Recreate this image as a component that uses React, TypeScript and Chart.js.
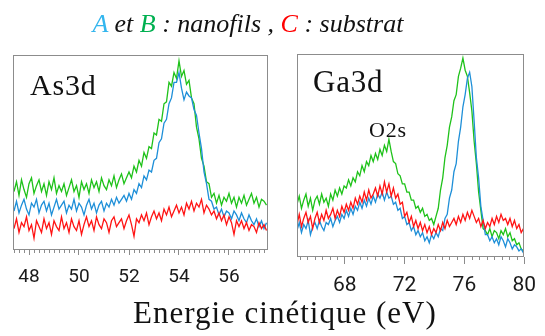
import React, { useEffect, useRef } from "react";
import { Chart, registerables } from "chart.js";

Chart.register(...registerables);

// ---------- As3d panel (kinetic energy grid: start + i * step, eV) ----------
const AS_START = 47.4;
const AS_STEP = 0.1;
const AS_TICKS = [48, 50, 52, 54, 56];
// A : nanofils (blue)
const AS_A = [
  20, 25, 19, 23, 26, 21, 18, 24, 22, 26,
  19, 23, 25, 20, 24, 18, 22, 26, 21, 23,
  25, 19, 23, 21, 26, 20, 24, 22, 18, 23,
  26, 21, 24, 19, 23, 25, 20, 24, 22, 26,
  23, 27, 24, 26, 28, 25,
  29, 26, 31, 29, 34, 32, 38, 36, 41, 40, 46, 47, 55, 57, 65, 67, 75, 78, 86, 86,
  91, 83, 77, 81, 79, 78, 72, 69, 60, 52, 40, 34, 26, 25, 21,
  22, 18, 21, 17, 20, 19, 16, 20, 18,
  15, 19, 16, 14, 18, 15, 13, 16, 12, 15, 11, 14,
];
// B : nanofils (green)
const AS_B = [
  30, 35, 28, 36, 31, 27, 34, 37, 29, 33,
  36, 30, 34, 28, 35, 31, 37, 29, 33, 30,
  34, 28, 32, 36, 30, 33, 27, 35, 31, 34,
  29, 36, 32, 35, 30, 37, 33, 31, 36, 33,
  38, 32, 36, 39, 34, 37,
  40, 37, 43, 40, 46, 43, 50, 47, 53, 52, 60, 59, 67, 66, 75, 76, 86, 84, 91, 88,
  97, 89, 92, 85, 87, 78, 75, 63, 57, 47, 43, 35, 34, 27, 29,
  24, 28, 23, 27, 25, 29, 24, 27, 22,
  27, 24, 28, 23, 26, 29, 24, 27, 22, 26, 25, 23,
];
// C : substrat (red)
const AS_C = [
  11, 16, 9, 14, 12, 17, 10, 13, 6, 15,
  12, 9, 16, 11, 14, 8, 15, 12, 10, 17,
  11, 14, 9, 16, 12, 10, 15, 8, 13, 17,
  12, 15, 10, 17, 13, 11, 16, 14, 9, 15,
  17, 12, 14, 16, 11, 15, 18, 13, 7, 16,
  14, 18, 15, 19, 13, 17, 20, 16, 19, 15,
  21, 18, 22, 17, 20, 23, 19, 22, 18, 24,
  21, 25, 20, 24, 22, 26, 19, 23, 21, 18,
  20, 16, 19, 15, 18, 13, 17, 14, 8, 15,
  12, 15, 11, 14, 10, 13, 12, 9, 14, 11, 13, 10,
];

// ---------- Ga3d panel ----------
const GA_START = 64.8;
const GA_STEP = 0.15;
const GA_TICKS = [68, 72, 76, 80];
const GA_A = [
  13, 17, 12, 16, 14, 18, 11, 15, 17,
  14, 18, 15, 13, 17, 16,
  19, 15, 18, 20, 17, 21, 19,
  23, 20, 24, 21, 25, 23, 27, 24, 28, 25, 29, 26, 30, 27, 31, 29, 32, 28, 32, 29,
  30, 26, 27, 23, 24, 19, 20, 16, 17, 13, 15, 11, 13, 10, 12, 8, 10, 7, 11, 9,
  12, 10, 14, 13, 19, 21, 29, 33, 42, 46, 57, 64, 74, 80, 88, 91, 84, 67, 49, 39, 25, 18, 11,
  11, 8, 10, 7, 9, 6, 10, 8, 5, 9, 7, 4, 6, 5, 3, 4, 2,
];
const GA_B = [
  26, 30, 24, 28, 31, 25, 29, 23, 28,
  30, 26, 31, 27, 29, 25,
  31, 28, 33, 30, 34, 31, 35,
  34, 38, 35, 39, 37, 42, 40, 45, 42, 47, 45, 50, 47,
  51, 48, 53, 50, 55, 52, 58,
  52, 47, 46, 41, 40, 36, 36, 32, 32, 28, 28, 24, 25, 22, 24, 20, 21, 18, 19, 16,
  20, 24, 33, 39, 49, 55, 64, 69, 77, 80, 89, 93, 98, 92, 89, 81, 72, 57, 46, 32, 23, 14, 13,
  11, 14, 10, 13, 12, 9, 13, 11, 14, 10, 12, 8, 9, 6, 7, 4, 3,
];
const GA_C = [
  16, 21, 15, 19, 22, 17, 20, 14, 19,
  22, 17, 21, 18, 23, 19,
  21, 24, 19, 23, 20, 25, 22,
  26, 23, 27, 24, 29, 26, 30,
  27, 32, 28, 33, 29, 31,
  34, 30, 35, 31, 37, 32, 36,
  30, 34, 29, 31, 26, 27,
  20, 22, 17, 20, 15, 18, 14,
  17, 13, 16, 12, 15, 11, 14,
  12, 16, 13, 17, 14, 18, 15, 17,
  19, 16, 20, 17, 21, 18, 22, 19, 23, 20,
  17, 19, 15, 18, 14, 17, 15,
  19, 16, 20, 17, 21, 18, 19, 16, 19, 15, 18,
  14, 16, 12, 14,
];

const COL_A = "#1e8fd8";
const COL_B = "#1fc21a";
const COL_C = "#ff1414";
const FRAME = "#8c8c8c";

const toXY = (start: number, step: number, ys: number[]) =>
  ys.map((y, i) => ({ x: Math.round((start + i * step) * 1000) / 1000, y }));

const framePlugin = {
  id: "frameMinor",
  afterDraw(chart: any, _args: any, opts: any) {
    const { ctx, chartArea: a } = chart;
    const xs = chart.scales.x;
    ctx.save();
    ctx.strokeStyle = FRAME;
    ctx.lineWidth = 1;
    ctx.strokeRect(
      Math.round(a.left) + 0.5,
      Math.round(a.top) + 0.5,
      Math.round(a.right - a.left) - 1,
      Math.round(a.bottom - a.top) - 1
    );
    const n = Math.round((opts.minorEnd - opts.minorStart) / opts.minorStep);
    ctx.beginPath();
    for (let k = 0; k <= n; k++) {
      const v = opts.minorStart + k * opts.minorStep;
      if (opts.majors.some((m: number) => Math.abs(m - v) < 1e-6)) continue;
      const px = Math.round(xs.getPixelForValue(v)) + 0.5;
      ctx.moveTo(px, Math.round(a.bottom) - 0.5);
      ctx.lineTo(px, Math.round(a.bottom) + opts.minorLen);
    }
    ctx.stroke();
    ctx.restore();
  },
};

type PanelProps = {
  left: number;
  width: number;
  height: number;
  a: number[];
  b: number[];
  c: number[];
  start: number;
  step: number;
  xMin: number;
  xMax: number;
  ticks: number[];
  minorStart: number;
  minorEnd: number;
  minorStep: number;
  padding: { left: number; right: number; top: number; bottom: number };
  fontSize: number;
  tickLength: number;
  tickPadding: number;
};

function Panel(p: PanelProps) {
  const ref = useRef<HTMLCanvasElement | null>(null);
  useEffect(() => {
    if (!ref.current) return;
    const mk = (ys: number[], color: string) => ({
      data: toXY(p.start, p.step, ys),
      borderColor: color,
      borderWidth: 1.3,
      pointRadius: 0,
      tension: 0,
      fill: false,
    });
    const chart = new Chart(ref.current, {
      type: "line",
      data: { datasets: [mk(p.c, COL_C), mk(p.a, COL_A), mk(p.b, COL_B)] },
      options: {
        animation: false,
        responsive: false,
        maintainAspectRatio: false,
        events: [],
        layout: { padding: p.padding, autoPadding: false } as any,
        plugins: {
          legend: { display: false },
          tooltip: { enabled: false },
          title: { display: false },
          frameMinor: {
            minorStart: p.minorStart,
            minorEnd: p.minorEnd,
            minorStep: p.minorStep,
            minorLen: 3,
            majors: p.ticks,
          },
        } as any,
        scales: {
          x: {
            type: "linear",
            min: p.xMin,
            max: p.xMax,
            afterBuildTicks: (scale: any) => {
              scale.ticks = p.ticks.map((v) => ({ value: v }));
            },
            afterFit: (scale: any) => {
              scale.height = 40;
            },
            grid: {
              display: true,
              drawOnChartArea: false,
              drawTicks: true,
              tickLength: p.tickLength,
              color: FRAME,
              lineWidth: 1,
            },
            border: { display: false },
            ticks: {
              autoSkip: false,
              maxRotation: 0,
              padding: p.tickPadding,
              color: "#1a1a1a",
              font: { family: "'Liberation Sans Narrow', Roboto, sans-serif", size: p.fontSize },
              callback: (v: any) => String(v),
            },
          },
          y: { display: false, min: 0, max: 100 },
        },
      },
      plugins: [framePlugin],
    });
    return () => chart.destroy();
  }, []);
  return (
    <canvas
      ref={ref}
      width={p.width}
      height={p.height}
      style={{ position: "absolute", left: p.left, top: 0, width: p.width, height: p.height }}
    />
  );
}

const serif = "'Liberation Serif', 'DejaVu Serif', serif";

export default function App() {
  return (
    <div
      style={{
        position: "fixed",
        left: 0,
        top: 0,
        width: 545,
        height: 336,
        background: "#ffffff",
        overflow: "hidden",
      }}
    >
      <Panel
        left={0}
        width={282}
        height={300}
        a={AS_A}
        b={AS_B}
        c={AS_C}
        start={AS_START}
        step={AS_STEP}
        xMin={47.36}
        xMax={57.56}
        ticks={AS_TICKS}
        minorStart={47.4}
        minorEnd={57.4}
        minorStep={0.2}
        padding={{ left: 13, right: 14, top: 55, bottom: 10 }}
        fontSize={19}
        tickLength={5}
        tickPadding={11}
      />
      <Panel
        left={284}
        width={261}
        height={300}
        a={GA_A}
        b={GA_B}
        c={GA_C}
        start={GA_START}
        step={GA_STEP}
        xMin={64.8}
        xMax={80}
        ticks={GA_TICKS}
        minorStart={65}
        minorEnd={80}
        minorStep={0.5}
        padding={{ left: 13, right: 10.5, top: 54, bottom: 3 }}
        fontSize={21}
        tickLength={7}
        tickPadding={9}
      />
      <div
        style={{
          position: "absolute",
          left: 0,
          top: 11,
          width: 496,
          textAlign: "center",
          fontFamily: serif,
          fontStyle: "italic",
          fontSize: 26,
          lineHeight: "26px",
          color: "#111",
          whiteSpace: "nowrap",
        }}
      >
        <span style={{ color: "#33b6ee" }}>A</span> et{" "}
        <span style={{ color: "#00b050" }}>B</span> : nanofils ,{" "}
        <span style={{ color: "#ff0000" }}>C</span> : substrat
      </div>
      <div
        style={{
          position: "absolute",
          left: 30,
          top: 70,
          fontFamily: serif,
          fontSize: 30,
          lineHeight: "30px",
          letterSpacing: 0.8,
          color: "#111",
          whiteSpace: "nowrap",
        }}
      >
        As3d
      </div>
      <div
        style={{
          position: "absolute",
          left: 313,
          top: 66,
          fontFamily: serif,
          fontSize: 31,
          lineHeight: "31px",
          letterSpacing: 0.8,
          color: "#111",
          whiteSpace: "nowrap",
        }}
      >
        Ga3d
      </div>
      <div
        style={{
          position: "absolute",
          left: 369,
          top: 119,
          fontFamily: serif,
          fontSize: 22,
          lineHeight: "22px",
          letterSpacing: 0.8,
          color: "#111",
          whiteSpace: "nowrap",
        }}
      >
        O2s
      </div>
      <div
        style={{
          position: "absolute",
          left: 133,
          top: 297,
          fontFamily: serif,
          fontSize: 31,
          lineHeight: "31px",
          letterSpacing: 1,
          color: "#111",
          whiteSpace: "nowrap",
        }}
      >
        Energie cinétique (eV)
      </div>
    </div>
  );
}
